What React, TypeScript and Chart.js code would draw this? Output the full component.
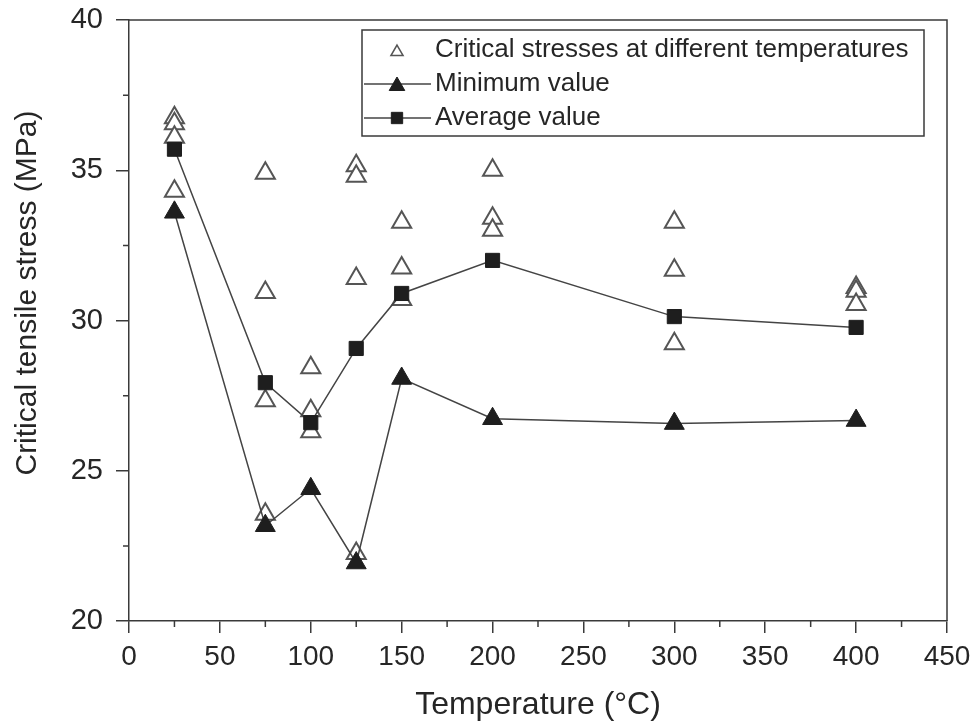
import React, { useEffect, useRef } from "react";
import { Chart, registerables } from "chart.js";

Chart.register(...registerables);

const temperatures = [25, 75, 100, 125, 150, 200, 300, 400];
const minimumValues = [33.6, 23.17, 24.4, 21.93, 28.07, 26.73, 26.57, 26.67];
const averageValues = [35.7, 27.93, 26.6, 29.07, 30.9, 32.0, 30.13, 29.77];

const criticalTemps = [
  25, 25, 25, 25,
  75, 75, 75, 75,
  100, 100, 100,
  125, 125, 125, 125,
  150, 150, 150,
  200, 200, 200,
  300, 300, 300,
  400, 400, 400,
];
const criticalStress = [
  36.75, 36.55, 36.1, 34.3,
  34.9, 30.93, 27.33, 23.55,
  28.43, 27.0, 26.3,
  35.15, 34.8, 31.4, 22.25,
  33.27, 31.75, 30.7,
  35.0, 33.4, 33.0,
  33.27, 31.67, 29.23,
  31.1, 30.97, 30.53,
];

const xTicks = [0, 50, 100, 150, 200, 250, 300, 350, 400, 450];
const yTicks = [20, 25, 30, 35, 40];
const xMinorTicks = [25, 75, 125, 175, 225, 275, 325, 375, 425];
const yMinorTicks = [22.5, 27.5, 32.5, 37.5];

const seriesLabels = [
  "Critical stresses at different temperatures",
  "Minimum value",
  "Average value",
];
const xTitle = "Temperature (°C)";
const yTitle = "Critical tensile stress (MPa)";

const FONT = "'Liberation Sans', Arial, Helvetica, sans-serif";
const AXIS_COLOR = "#3a3a3a";
const TEXT_COLOR = "#262626";

function drawMarker(ctx: any, style: string, r: number, x: number, y: number, fill: string, stroke: string, lw: number) {
  ctx.save();
  ctx.beginPath();
  if (style === "triangle") {
    let rad = 0;
    const T = (2 * Math.PI) / 3;
    ctx.moveTo(x + Math.sin(rad) * r, y - Math.cos(rad) * r);
    rad += T;
    ctx.lineTo(x + Math.sin(rad) * r, y - Math.cos(rad) * r);
    rad += T;
    ctx.lineTo(x + Math.sin(rad) * r, y - Math.cos(rad) * r);
    ctx.closePath();
  } else {
    const s = Math.SQRT1_2 * r;
    ctx.rect(x - s, y - s, 2 * s, 2 * s);
  }
  ctx.fillStyle = fill;
  ctx.fill();
  ctx.lineWidth = lw;
  ctx.strokeStyle = stroke;
  ctx.stroke();
  ctx.restore();
}

const decorPlugin = {
  id: "decor",
  afterDraw(chart: any) {
    const { ctx, chartArea } = chart;
    const xs = chart.scales.x;
    const ys = chart.scales.y;
    ctx.save();
    // frame (top & right)
    ctx.strokeStyle = AXIS_COLOR;
    ctx.lineWidth = 1.5;
    ctx.beginPath();
    ctx.moveTo(chartArea.left, chartArea.top);
    ctx.lineTo(chartArea.right, chartArea.top);
    ctx.lineTo(chartArea.right, chartArea.bottom);
    ctx.stroke();
    // minor ticks
    ctx.beginPath();
    yMinorTicks.forEach((v) => {
      const p = ys.getPixelForValue(v);
      ctx.moveTo(chartArea.left - 6, p);
      ctx.lineTo(chartArea.left, p);
    });
    xMinorTicks.forEach((v) => {
      const p = xs.getPixelForValue(v);
      ctx.moveTo(p, chartArea.bottom);
      ctx.lineTo(p, chartArea.bottom + 6);
    });
    ctx.stroke();

    // y title
    ctx.fillStyle = TEXT_COLOR;
    ctx.font = `30px ${FONT}`;
    ctx.textAlign = "center";
    ctx.textBaseline = "middle";
    ctx.translate(28, 293);
    ctx.rotate(-Math.PI / 2);
    ctx.fillText(yTitle, 0, 0);
    ctx.restore();

    // legend
    ctx.save();
    const boxL = 362, boxT = 30, boxR = 924, boxB = 136;
    ctx.fillStyle = "#ffffff";
    ctx.fillRect(boxL, boxT, boxR - boxL, boxB - boxT);
    ctx.strokeStyle = AXIS_COLOR;
    ctx.lineWidth = 1.5;
    ctx.strokeRect(boxL, boxT, boxR - boxL, boxB - boxT);
    const rows = [50, 84, 118];
    const markerX = 397;
    chart.data.datasets.forEach((d: any, i: number) => {
      const y = rows[i];
      if (d.showLine !== false) {
        ctx.strokeStyle = d.borderColor;
        ctx.lineWidth = 1.5;
        ctx.beginPath();
        ctx.moveTo(364, y);
        ctx.lineTo(431, y);
        ctx.stroke();
      }
      const r = i === 0 ? 7 : i === 1 ? 9 : 8;
      drawMarker(
        ctx,
        d.pointStyle,
        r,
        markerX,
        y + (d.pointStyle === "triangle" ? 2 : 0),
        d.pointBackgroundColor,
        d.pointBorderColor,
        i === 0 ? 1.5 : 1
      );
      ctx.fillStyle = TEXT_COLOR;
      ctx.font = `26px ${FONT}`;
      ctx.textAlign = "left";
      ctx.textBaseline = "middle";
      ctx.fillText(d.label, 435, y);
    });
    ctx.restore();
  },
};

export default function App() {
  const ref = useRef<HTMLCanvasElement | null>(null);
  useEffect(() => {
    if (!ref.current) return;
    const chart = new Chart(ref.current, {
      type: "line",
      data: {
        datasets: [
          {
            label: seriesLabels[0],
            data: criticalTemps.map((t, i) => ({ x: t, y: criticalStress[i] })),
            showLine: false,
            pointStyle: "triangle",
            pointRadius: 11,
            pointBorderWidth: 2,
            pointBackgroundColor: "#ffffff",
            pointBorderColor: "#555555",
            borderColor: "#555555",
            backgroundColor: "#ffffff",
            order: 3,
          } as any,
          {
            label: seriesLabels[1],
            data: temperatures.map((t, i) => ({ x: t, y: minimumValues[i] })),
            pointStyle: "triangle",
            pointRadius: 11.5,
            pointBorderWidth: 1,
            pointBackgroundColor: "#1e1e1e",
            pointBorderColor: "#1e1e1e",
            borderColor: "#444444",
            borderWidth: 1.5,
            tension: 0,
            order: 1,
          } as any,
          {
            label: seriesLabels[2],
            data: temperatures.map((t, i) => ({ x: t, y: averageValues[i] })),
            pointStyle: "rect",
            pointRadius: 10,
            pointBorderWidth: 1,
            pointBackgroundColor: "#1e1e1e",
            pointBorderColor: "#1e1e1e",
            borderColor: "#444444",
            borderWidth: 1.5,
            tension: 0,
            order: 2,
          } as any,
        ],
      },
      options: {
        animation: false,
        responsive: false,
        maintainAspectRatio: false,
        layout: { autoPadding: false, padding: { left: 0, right: 32, top: 20, bottom: 0 } },
        plugins: {
          legend: { display: false },
          tooltip: { enabled: false },
          title: { display: false },
        },
        scales: {
          x: {
            type: "linear",
            min: 0,
            max: 450,
            afterBuildTicks: (s: any) => {
              s.ticks = xTicks.map((v) => ({ value: v }));
            },
            afterFit: (s: any) => {
              s.height = 105;
              s.paddingLeft = 0;
              s.paddingRight = 0;
            },
            ticks: {
              color: TEXT_COLOR,
              font: { family: FONT, size: 28 },
              padding: 7,
              maxRotation: 0,
              autoSkip: false,
            },
            grid: {
              display: true,
              drawOnChartArea: false,
              drawTicks: true,
              tickLength: 12,
              color: AXIS_COLOR,
              lineWidth: 1.5,
            },
            border: { display: true, color: AXIS_COLOR, width: 1.5 },
            title: {
              display: true,
              text: xTitle,
              color: TEXT_COLOR,
              font: { family: FONT, size: 32 },
              padding: { top: 0, bottom: 2 },
            },
          },
          y: {
            type: "linear",
            min: 20,
            max: 40,
            afterBuildTicks: (s: any) => {
              s.ticks = yTicks.map((v) => ({ value: v }));
            },
            afterFit: (s: any) => {
              s.width = 129;
              s.paddingTop = 0;
              s.paddingBottom = 0;
            },
            ticks: {
              color: TEXT_COLOR,
              font: { family: FONT, size: 29 },
              padding: 13,
              autoSkip: false,
            },
            grid: {
              display: true,
              drawOnChartArea: false,
              drawTicks: true,
              tickLength: 13,
              color: AXIS_COLOR,
              lineWidth: 1.5,
            },
            border: { display: true, color: AXIS_COLOR, width: 1.5 },
          },
        },
      },
      plugins: [decorPlugin],
    });
    return () => chart.destroy();
  }, []);
  return (
    <div style={{ position: "fixed", left: 0, top: 0, width: 979, height: 726, background: "#fff" }}>
      <canvas ref={ref} width={979} height={726} style={{ width: 979, height: 726, display: "block" }} />
    </div>
  );
}
